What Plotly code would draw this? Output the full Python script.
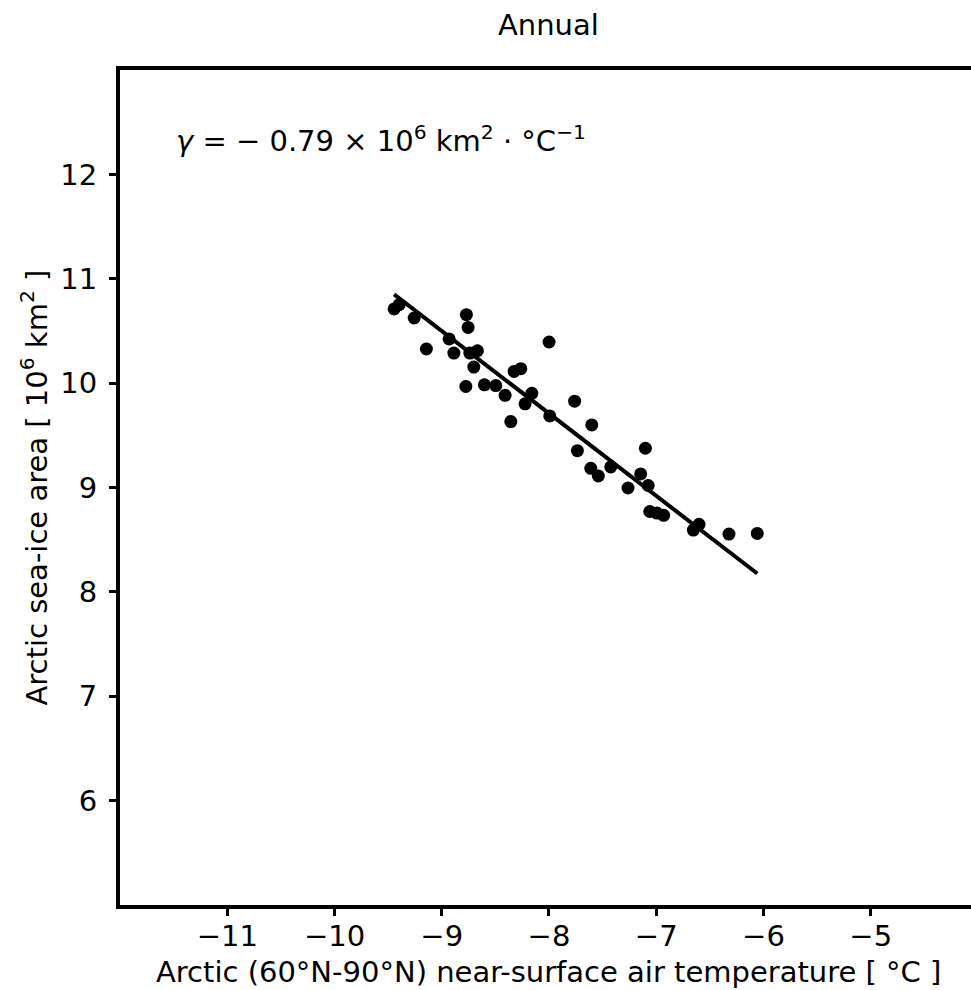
import numpy as np
import plotly.graph_objects as go

# Data
temperature = [-9.444, -9.397, -9.257, -8.770, -8.754, -9.143, -8.931, -8.887, -8.738, -8.667,
               -8.701, -8.775, -8.602, -8.496, -8.409, -8.325, -8.263, -8.160, -8.223, -8.356,
               -7.993, -7.999, -7.761, -7.601, -7.735, -7.610, -7.540, -7.424, -7.101, -7.145,
               -7.075, -7.263, -7.060, -6.994, -6.931, -6.654, -6.601, -6.322, -6.058]
sea_ice = [10.711, 10.752, 10.624, 10.656, 10.534, 10.327, 10.423, 10.288, 10.288, 10.310,
           10.154, 9.968, 9.984, 9.977, 9.883, 10.112, 10.138, 9.902, 9.802, 9.632,
           9.686, 10.394, 9.827, 9.600, 9.353, 9.184, 9.110, 9.197, 9.376, 9.130,
           9.019, 8.995, 8.770, 8.755, 8.733, 8.592, 8.647, 8.554, 8.560]
# regression line parameters (slope shown in the chart, intercept)
gamma = -0.79
intercept = 3.39
x_ticks = [-11, -10, -9, -8, -7, -6, -5]
y_ticks = [6, 7, 8, 9, 10, 11, 12]
title_text = "Annual"
x_label = "Arctic (60°N-90°N) near-surface air temperature [ °C ]"
y_label = "Arctic sea-ice area [ 10<sup>6</sup> km<sup>2</sup> ]"
gamma_text = "<i>γ</i> = − 0.79 × 10<sup>6</sup> km<sup>2</sup> · °C<sup>−1</sup>"

FONT = "DejaVu Sans"
FS = 29

xs = np.array(temperature)
ys = np.array(sea_ice)
fit_x = np.array([xs.min(), xs.max()])
fit_y = gamma * fit_x + intercept

fig = go.Figure()
fig.add_trace(go.Scatter(x=xs, y=ys, mode="markers",
                         marker=dict(color="black", size=13, line=dict(width=0)),
                         showlegend=False))
fig.add_trace(go.Scatter(x=fit_x, y=fit_y, mode="lines",
                         line=dict(color="black", width=4), showlegend=False))

fig.update_layout(
    width=971, height=990,
    margin=dict(l=120, r=0, t=70, b=85),
    plot_bgcolor="white", paper_bgcolor="white",
    font=dict(family=FONT, size=FS, color="black"),
    xaxis=dict(range=[-12, -4.065], tickvals=x_ticks, showgrid=False, zeroline=False,
               showline=True, mirror=True, linecolor="black", linewidth=4,
               ticks="outside", ticklen=7, tickwidth=3, tickcolor="black",
               ticklabelstandoff=-5,
               tickfont=dict(family=FONT, size=FS)),
    yaxis=dict(range=[5, 13], tickvals=y_ticks, showgrid=False, zeroline=False,
               showline=True, mirror=False, linecolor="black", linewidth=4,
               ticks="outside", ticklen=7, tickwidth=3, tickcolor="black",
               ticklabelstandoff=6,
               tickfont=dict(family=FONT, size=FS)),
    annotations=[
        dict(text=title_text, xref="paper", yref="paper", x=0.504, y=1 + 45 / 835,
             xanchor="center", yanchor="middle", showarrow=False,
             font=dict(family=FONT, size=FS)),
        dict(text=x_label, xref="paper", yref="paper", x=0.5035, y=-67 / 835,
             xanchor="center", yanchor="middle", showarrow=False,
             font=dict(family=FONT, size=FS)),
        dict(text=y_label, xref="paper", yref="paper", x=-86 / 851, y=0.5,
             xanchor="center", yanchor="middle", showarrow=False, textangle=-90,
             font=dict(family=FONT, size=FS)),
        dict(text=gamma_text, xref="x", yref="y", x=-11.494, y=12.336,
             xanchor="left", yanchor="middle", showarrow=False,
             font=dict(family=FONT, size=FS)),
    ],
)

fig.write_html("out.html")
